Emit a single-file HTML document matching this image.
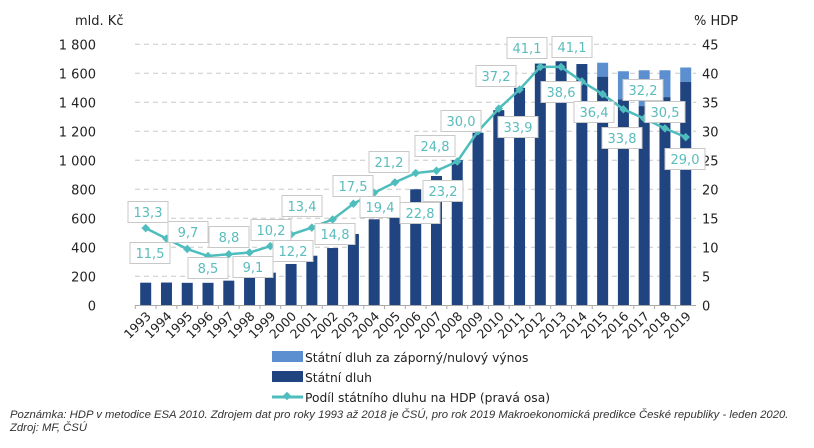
<!DOCTYPE html>
<html><head><meta charset="utf-8"><style>
body{margin:0;background:#fff;width:814px;height:443px;overflow:hidden;font-family:"Liberation Sans",sans-serif}
</style></head><body>
<svg width="814" height="443" xmlns="http://www.w3.org/2000/svg" font-family="DejaVu Sans, sans-serif">
<g id="grid" stroke="#c8c8c8" stroke-dasharray="5,4" stroke-width="1"></g>
<g id="bars"></g>
<line x1="135" y1="305.5" x2="696" y2="305.5" stroke="#aaa"/>
<g id="ticks" font-size="13" fill="#222"></g>
<g id="line"></g>
<g id="labels" font-size="13" fill="#5bbcbc"></g>
<g id="years" font-size="12.5" fill="#222"></g>
<text x="75" y="25" font-size="13" fill="#222">mld. Kč</text>
<text x="694" y="25" font-size="13" fill="#222">% HDP</text>
<rect x="272" y="351" width="31" height="11" fill="#5b8fd0"/>
<text x="305" y="362" font-size="12.3" fill="#222">Státní dluh za záporný/nulový výnos</text>
<rect x="272" y="371" width="31" height="11" fill="#1f4480"/>
<text x="305" y="382" font-size="12.3" fill="#222">Státní dluh</text>
<line x1="272" y1="397" x2="303" y2="397" stroke="#4fbdbd" stroke-width="3"/>
<rect x="284" y="393" width="6" height="6" fill="#4fbdbd" transform="rotate(45 287 396)"/>
<text x="305" y="402" font-size="12.3" fill="#222">Podíl státního dluhu na HDP (pravá osa)</text>
<text x="10" y="418" font-size="11.3" font-style="italic" fill="#333" font-family="Liberation Sans, sans-serif">Poznámka: HDP v metodice ESA 2010. Zdrojem dat pro roky 1993 až 2018 je ČSÚ, pro rok 2019 Makroekonomická predikce České republiky - leden 2020.</text>
<text x="10" y="431" font-size="11.3" font-style="italic" fill="#333" font-family="Liberation Sans, sans-serif">Zdroj: MF, ČSÚ</text>
</svg>
<script>
const ns="http://www.w3.org/2000/svg";
function el(p,t,a,txt){const e=document.createElementNS(ns,t);for(const k in a)e.setAttribute(k,a[k]);if(txt!=null)e.textContent=txt;document.getElementById(p).appendChild(e);return e;}
const y0=305.3,sc=29/200,ps=5.8;
for(let i=1;i<=9;i++){const y=y0-i*29;el('grid','line',{x1:135,x2:696,y1:y,y2:y});}
const fmt=v=>v>=1000?('1 '+String(v).slice(1)):String(v);
for(let i=0;i<=9;i++){const y=y0-i*29;el('ticks','text',{x:96,y:y+5,'text-anchor':'end'},fmt(i*200));el('ticks','text',{x:702,y:y+5},i*5);}
const dark=[156,157,155,155,170,195,225,285,342,395,492,593,611,800,892,1001,1190,1346,1500,1667,1683,1664,1577,1421,1374,1436,1542];
const light=[0,0,0,0,0,0,0,0,0,0,0,0,0,0,0,0,0,0,0,0,0,0,96,193,247,185,98];
const pct=[13.3,11.5,9.7,8.5,8.8,9.1,10.2,12.2,13.4,14.8,17.5,19.4,21.2,22.8,23.2,24.8,30.0,33.9,37.2,41.1,41.1,38.6,36.4,33.8,32.2,30.5,29.0];
const cx=i=>145.7+i*20.77;
let pts=[];
for(let i=0;i<27;i++){const x=cx(i);const hd=dark[i]*sc;el('bars','rect',{x:x-5.5,y:y0-hd,width:11,height:hd,fill:'#1f4480'});
if(light[i]){const hl=light[i]*sc;el('bars','rect',{x:x-5.5,y:y0-hd-hl,width:11,height:hl,fill:'#5b8fd0'});}
pts.push(x+','+(y0-pct[i]*ps));
const yr=1993+i;el('years','text',{x:x+6,y:317,'text-anchor':'end',transform:`rotate(-45 ${x+6} 317)`},yr);
el('ticks','line',{x1:x-10.4,x2:x-10.4,y1:305,y2:309,stroke:'#aaa'});}
el('line','polyline',{points:pts.join(' '),fill:'none',stroke:'#4fbdbd','stroke-width':2.5});
pts.forEach(p=>{const [x,y]=p.split(',');el('line','rect',{x:x-3,y:y-3,width:6,height:6,fill:'#4fbdbd',transform:`rotate(45 ${x} ${y})`});});
const L=[[148,212],[150,253],[188,232],[208,268],[229,237],[253,267],[271,230],[293,251],[302,206],[335,234],[353,186],[380,207],[389,162],[420,213],[443,191],[435,146],[461,121],[518,127],[496,76],[527,48],[572,47],[561,92],[594,112],[622,138],[643,90],[665,112],[685,159]];
for(let i=0;i<27;i++){const [x,y]=L[i];el('labels','rect',{x:x-20,y:y-10.5,width:40,height:21,fill:'#fff',stroke:'#c8c8c8'});
el('labels','text',{x:x,y:y+5,'text-anchor':'middle'},pct[i].toFixed(1).replace('.',','));}
</script>
</body></html>
